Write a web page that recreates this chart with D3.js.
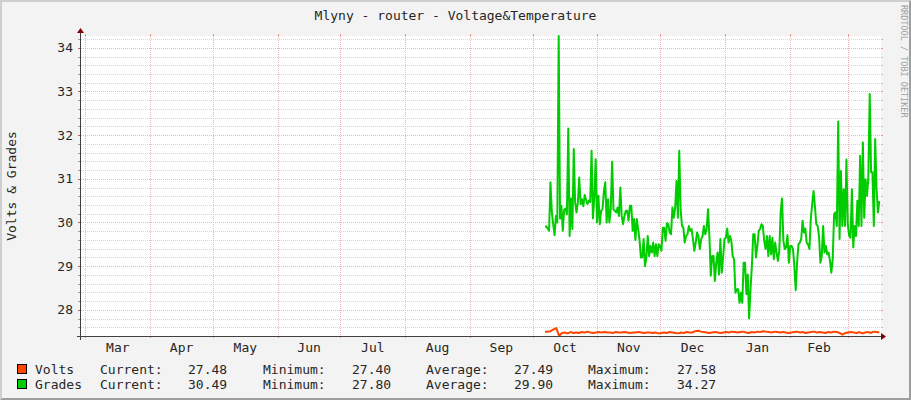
<!DOCTYPE html>
<html><head><meta charset="utf-8">
<script src="https://cdn.jsdelivr.net/npm/d3@7"></script>
<style>html,body{margin:0;padding:0;background:#F3F3F3;} svg{display:block;}</style>
</head><body><svg id="c" width="911" height="400"></svg>
<script>
// ---------- data ----------
const chartTitle = "Mlyny - router - Voltage&Temperature";
const yAxisLabel = "Volts & Grades";
const watermark = "RRDTOOL / TOBI OETIKER";
const monthLabels = ["Mar","Apr","May","Jun","Jul","Aug","Sep","Oct","Nov","Dec","Jan","Feb"];
const yTickValues = [28,29,30,31,32,33,34];
const seriesNames = ["Volts","Grades"];
const seriesColors = ["#FF4500","#00CC00"];
const statLabels = ["Current:","Minimum:","Average:","Maximum:"];
const voltsStats = ["27.48","27.40","27.49","27.58"];
const gradesStats = ["30.49","27.80","29.90","34.27"];
const viewStart = new Date(2010,1,26,21,14);
const viewEnd = new Date(2011,2,16,15,29);
const dataStart = new Date(2010,9,6,21,0);
const dataEnd = new Date(2011,2,15,20,0);

const volts = [
27.50,27.50,27.51,27.55,27.58,27.40,27.47,27.48,27.46,27.49,27.47,27.48,27.47,27.49,27.48,27.50,27.48,27.47,27.48,27.49,
27.48,27.49,27.48,27.48,27.47,27.49,27.48,27.48,27.49,27.48,27.47,27.48,27.48,27.49,27.48,27.47,27.48,27.48,27.47,27.48,27.46,
27.47,27.48,27.47,27.49,27.48,27.47,27.46,27.48,27.47,27.49,27.48,27.48,27.51,27.52,27.50,27.49,27.48,27.47,27.48,27.49,27.48,27.47,27.48,
27.49,27.48,27.50,27.49,27.48,27.49,27.50,27.48,27.47,27.49,27.48,27.50,27.49,27.51,27.50,27.49,27.48,27.50,27.49,27.48,27.49,27.48,27.47,
27.48,27.49,27.50,27.48,27.49,27.47,27.48,27.49,27.50,27.48,27.49,27.48,27.47,27.49,27.48,27.50,27.49,27.47,27.43,27.47,27.48,27.49,27.48,27.47,27.49,27.46,27.48,27.49,27.47,27.50,27.49,27.48
];

const grades = [
29.91,29.91,29.86,29.81,30.92,30.24,29.96,29.71,30.15,30.00,34.27,30.09,30.38,29.81,30.29,30.32,30.19,32.15,29.69,30.55,
29.85,31.68,30.46,30.23,30.46,31.03,30.42,30.53,30.37,30.63,30.52,30.42,30.50,30.47,31.64,30.09,30.57,31.45,30.00,30.61,
29.96,30.27,30.30,30.72,30.92,30.00,30.53,
30.00,30.30,31.39,30.30,30.27,30.23,30.34,30.15,30.80,30.15,29.96,30.15,30.27,30.27,30.04,30.38,30.38,29.81,30.08,29.60,
30.08,29.85,29.60,29.20,29.20,29.62,29.00,29.20,29.69,29.23,29.46,29.31,29.54,29.23,29.50,29.23,29.50,29.46,29.35,29.88,
29.88,29.58,29.98,29.96,29.77,29.73,30.34,30.11,30.34,30.95,
30.11,31.64,30.30,29.92,29.88,29.54,29.69,29.73,29.92,29.81,29.85,29.62,29.35,29.54,29.77,29.69,29.39,29.62,29.69,29.92,
29.73,29.85,30.30,29.69,28.78,29.23,29.23,28.66,29.08,29.31,28.81,29.62,28.85,29.20,29.62,29.65,29.86,29.54,29.69,29.58,
29.23,29.16,28.39,28.47,28.47,28.16,28.39,28.16,29.08,29.08,28.36,
28.81,27.80,28.47,29.00,29.73,29.73,29.20,29.46,29.81,29.85,29.96,29.92,29.58,29.39,29.69,29.23,29.69,29.27,29.65,29.16,
29.54,29.31,29.12,29.35,30.23,30.55,29.58,29.39,29.43,29.71,29.08,29.46,29.46,29.39,29.00,28.45,29.08,29.50,29.54,29.62,
30.04,29.77,29.86,29.54,29.50,29.39,30.08,30.42,30.72,
30.38,29.96,29.92,29.69,29.08,29.23,29.92,29.31,29.46,29.27,29.31,29.12,28.85,29.16,30.19,30.23,29.92,32.31,29.62,31.18,
29.92,30.76,29.92,31.44,29.96,29.69,29.65,30.76,29.43,29.92,29.69,30.50,29.92,31.53,29.92,31.83,30.11,30.99,30.61,31.03,
32.94,31.15,31.15,29.92,31.91,30.76,30.23,30.49
];

// ---------- layout ----------
const W = 911, H = 400;
const L = 81, R = 881, T = 36, B = 336;
const FONT = "'DejaVu Sans Mono', monospace";
const TXT = "#262626";
const svg = d3.select("#c");

svg.append("rect").attr("width", W).attr("height", H).attr("fill", "#F3F3F3");
svg.append("path").attr("d", `M0,0H${W}L${W-2},2H2V${H-2}L0,${H}Z`).attr("fill", "#CFCFCF");
svg.append("path").attr("d", `M${W},0V${H}H0L2,${H-2}H${W-2}V2Z`).attr("fill", "#9E9E9E");

const x = d3.scaleTime().domain([viewStart, viewEnd]).range([L, R]);
const yMin = d3.min(volts), yMax = d3.max(grades);
const y = d3.scaleLinear().domain([yMin, yMax]).range([B, T]);

svg.append("rect").attr("x", L).attr("y", T).attr("width", R - L).attr("height", B - T).attr("fill", "#FFFFFF");

const g = svg.append("g").attr("shape-rendering", "crispEdges");
const minorCol = "#D6D6D6", majorCol = "#F2B0B0";

// horizontal grid
const lo = Math.ceil(yMin * 5 + 1e-6), hi = Math.floor(yMax * 5 + 1e-6);
for (let i = lo; i <= hi; i++) {
  const v = i / 5, yy = Math.round(y(v)) + 0.5;
  const major = i % 5 === 0;
  const col = major ? majorCol : minorCol;
  g.append("line").attr("x1", L).attr("x2", R).attr("y1", yy).attr("y2", yy)
    .attr("stroke", col).attr("stroke-dasharray", "1,1");
  g.append("line").attr("x1", L - 3).attr("x2", L).attr("y1", yy).attr("y2", yy)
    .attr("stroke", major ? "#C06060" : "#A0A0A0");
  g.append("line").attr("x1", R).attr("x2", R + 2).attr("y1", yy).attr("y2", yy)
    .attr("stroke", major ? "#E89090" : "#C0C0C0");
}

// vertical month grid
const monthStarts = d3.timeMonth.range(d3.timeMonth.ceil(viewStart), viewEnd);
monthStarts.forEach(d => {
  const xx = Math.round(x(d)) + 0.5;
  g.append("line").attr("x1", xx).attr("x2", xx).attr("y1", T).attr("y2", B)
    .attr("stroke", majorCol).attr("stroke-dasharray", "1,1");
  g.append("line").attr("x1", xx).attr("x2", xx).attr("y1", T - 2).attr("y2", T)
    .attr("stroke", "#E89090");
  g.append("line").attr("x1", xx).attr("x2", xx).attr("y1", B).attr("y2", B + 2)
    .attr("stroke", "#E89090");
});

// month labels centered in month
monthLabels.forEach((m, i) => {
  const d0 = monthStarts[i], d1 = monthStarts[i + 1];
  const xm = (x(d0) + x(d1)) / 2;
  svg.append("text").attr("x", xm).attr("y", 351.5).attr("text-anchor", "middle")
    .attr("font-family", FONT).attr("font-size", 13).attr("fill", TXT).text(m);
});

// y tick labels
yTickValues.forEach(v => {
  svg.append("text").attr("x", 73).attr("y", y(v) + 4.5).attr("text-anchor", "end")
    .attr("font-family", FONT).attr("font-size", 13).attr("fill", TXT).text(v);
});

// series lines
function series(arr) {
  const n = arr.length, span = dataEnd - dataStart;
  return arr.map((v, i) => ({ t: new Date(+dataStart + span * i / (n - 1)), v }));
}
const line = d3.line().x(d => x(d.t)).y(d => y(d.v));
svg.append("path").datum(series(volts)).attr("d", line).attr("fill", "none")
  .attr("stroke", seriesColors[0]).attr("stroke-width", 2).attr("stroke-linejoin", "round");
svg.append("path").datum(series(grades)).attr("d", line).attr("fill", "none")
  .attr("stroke", seriesColors[1]).attr("stroke-width", 2).attr("stroke-linejoin", "round");

// axes
const ax = svg.append("g").attr("shape-rendering", "crispEdges");
ax.append("line").attr("x1", L - 4).attr("x2", R + 1).attr("y1", B + 0.5).attr("y2", B + 0.5).attr("stroke", "#404040");
ax.append("line").attr("x1", L - 0.5).attr("x2", L - 0.5).attr("y1", B + 4).attr("y2", T - 4).attr("stroke", "#404040");
svg.append("path").attr("d", `M${R},${B - 3}L${R + 5},${B + 0.5}L${R},${B + 4}Z`).attr("fill", "#800000");
svg.append("path").attr("d", `M${L - 4},${T - 3}L${L - 0.5},${T - 8}L${L + 3},${T - 3}Z`).attr("fill", "#800000");

// title
svg.append("text").attr("x", 455.5).attr("y", 19.5).attr("text-anchor", "middle")
  .attr("font-family", FONT).attr("font-size", 13).attr("fill", TXT).text(chartTitle);

// y label
svg.append("text").attr("transform", `translate(16,${(T + B) / 2}) rotate(-90)`).attr("text-anchor", "middle")
  .attr("font-family", FONT).attr("font-size", 13).attr("fill", TXT).text(yAxisLabel);

// watermark
svg.append("text").attr("transform", `translate(901,5) rotate(90)`).attr("text-anchor", "start")
  .attr("font-family", FONT).attr("font-size", 8.5).attr("fill", "#A0A0A0").text(watermark);

// legend
const statsRows = [voltsStats, gradesStats];
const labelX = [100, 263, 426, 588], valX = [188, 352, 514, 677];
seriesNames.forEach((name, r) => {
  const cy = 369 + r * 15;
  svg.append("rect").attr("x", 17.5).attr("y", cy - 4.5).attr("width", 9).attr("height", 9)
    .attr("fill", seriesColors[r]).attr("stroke", "#000").attr("stroke-width", 1);
  svg.append("text").attr("x", 35).attr("y", cy + 4.5).attr("font-family", FONT).attr("font-size", 13)
    .attr("fill", TXT).text(name);
  statLabels.forEach((lab, k) => {
    svg.append("text").attr("x", labelX[k]).attr("y", cy + 4.5).attr("font-family", FONT).attr("font-size", 13)
      .attr("fill", TXT).text(lab);
    svg.append("text").attr("x", valX[k]).attr("y", cy + 4.5).attr("font-family", FONT).attr("font-size", 13)
      .attr("fill", TXT).text(statsRows[r][k]);
  });
});
</script></body></html>
